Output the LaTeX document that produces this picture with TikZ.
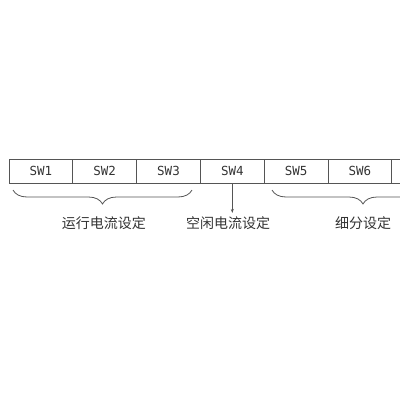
\documentclass[tikz,border=0pt]{standalone}
\usepackage{fontspec}
\newfontfamily\cjk{Noto Sans CJK SC}
\newfontfamily\swfont{DejaVu Sans Mono}
\usetikzlibrary{arrows.meta,decorations.pathreplacing}
\definecolor{linegray}{HTML}{555555}
\definecolor{textgray}{HTML}{333333}
\begin{document}
\begin{tikzpicture}[x=1pt,y=-1pt,
    cell/.style={draw=linegray,line width=0.8pt,minimum width=63.8pt,minimum height=24pt,
        inner sep=0pt,text=textgray,font=\swfont\fontsize{12.5}{12.5}\selectfont},
    setlabel/.style={text=textgray,font=\cjk\fontsize{14}{14}\selectfont},
    brace/.style={draw=linegray,line width=0.8pt,decorate,
        decoration={brace,mirror,amplitude=14pt}}]
    \clip (0,0) rectangle (400,400);

    \foreach \i in {1, 2, 3, 4, 5, 6}
        \node[cell] (sw\i) at (9+63.8*\i-31.9, 171) {SW\i};
    \node[cell] (sw7) at (9+63.8*7-31.9, 171) {};

    \coordinate (run left) at (13, 190);
    \coordinate (run right) at (192, 190);
    \coordinate (step left) at (272, 190);
    \coordinate (step right) at (454, 190);

    \draw[brace] (run left) -- (run right);
    \draw[brace] (step left) -- (step right);

    \node[setlabel] (run) at (104, 223) {运行电流设定};
    \node[setlabel] (idle) at (228, 223) {空闲电流设定};
    \node[setlabel] (step) at (363, 223) {细分设定};

    \draw[linegray,line width=0.8pt,-{Stealth[length=4pt,width=3pt]}] (sw4.south) -- (sw4.south |- idle.north);

\end{tikzpicture}
\end{document}
